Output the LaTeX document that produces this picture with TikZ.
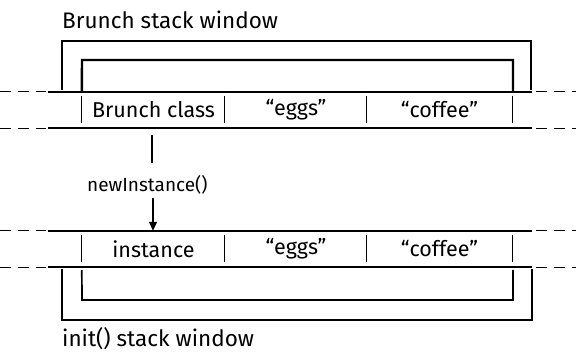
\documentclass[tikz,border=0pt]{standalone}
\usepackage{fontspec}
\setmainfont{Fira Sans}
\usetikzlibrary{arrows.meta}
\begin{document}
\begin{tikzpicture}[x=1pt,y=1pt,
  cell/.style={minimum height=36pt,inner sep=0pt,font=\fontsize{21.5}{24}\selectfont},
  lbl/.style={anchor=base west,inner sep=0pt,font=\fontsize{22.5}{25}\selectfont},
  rowline/.style={line width=1.8pt},
  edgedash/.style={line width=1pt,dash pattern=on 11pt off 7pt},
  bracket/.style={line width=1.7pt},
  thickbracket/.style={line width=2.4pt},
  divider/.style={line width=1pt},
  conn/.style={line width=1.2pt}]
\useasboundingbox (0,0) rectangle (576,351);
% row 1
\node[cell,minimum width=143pt] (a1) at (153.5,241) {Brunch class};
\node[cell,minimum width=142pt] (a2) at (296,241) {“eggs”};
\node[cell,minimum width=145pt] (a3) at (439.5,241) {“coffee”};
% row 2
\node[cell,minimum width=143pt] (b1) at (153.5,102) {instance};
\node[cell,minimum width=142pt] (b2) at (296,102) {“eggs”};
\node[cell,minimum width=145pt] (b3) at (439.5,102) {“coffee”};
% row lines
\foreach \r in {a,b}{
  \draw[rowline] (48,0 |- \r1.north) -- (532,0 |- \r1.north);
  \draw[rowline] (48,0 |- \r1.south) -- (532,0 |- \r1.south);
  \draw[edgedash] (0,0 |- \r1.north) -- (46,0 |- \r1.north);
  \draw[edgedash] (0,0 |- \r1.south) -- (46,0 |- \r1.south);
  \draw[edgedash] (536,0 |- \r1.north) -- (576,0 |- \r1.north);
  \draw[edgedash] (536,0 |- \r1.south) -- (576,0 |- \r1.south);
  \draw[divider] ([yshift=-4pt]\r1.north west) -- ([yshift=5pt]\r1.south west);
  \draw[divider] ([yshift=-4pt]\r2.north west) -- ([yshift=5pt]\r2.south west);
  \draw[divider] ([yshift=-4pt]\r3.north west) -- ([yshift=5pt]\r3.south west);
  \draw[divider] ([yshift=-4pt]\r3.north east) -- ([yshift=5pt]\r3.south east);
}
% brackets top
\coordinate (ot1) at (62,261);
\coordinate (ot2) at (531,261);
\draw[bracket] (ot1) -- (62,310) -- (531,310) -- (ot2);
\draw[thickbracket] (a1.north west) -- (82,291) -- (513,291) -- (513,0 |- a1.north);
% brackets bottom
\coordinate (ob1) at (62,82);
\coordinate (ob2) at (532,82);
\draw[bracket] (ob1) -- (62,31) -- (532,31) -- (ob2);
\draw[bracket] ([yshift=-3pt]b1.south west) -- (82,51) -- (513,51) -- (513,81);
% labels
\node[lbl] (t1) at (62,322) {Brunch stack window};
\node[lbl] (t2) at (62,5) {init() stack window};
\node[lbl,font=\fontsize{19}{21}\selectfont] (ni) at (87,159) {newInstance()};
% connectors
\coordinate (na) at (152,188);
\draw[conn] ([yshift=-7pt]a1.south -| na) -- (na);
\draw[conn,-{Triangle[length=9pt,width=8pt]}] (153,153) -- (153,0 |- b1.north);
\end{tikzpicture}
\end{document}
